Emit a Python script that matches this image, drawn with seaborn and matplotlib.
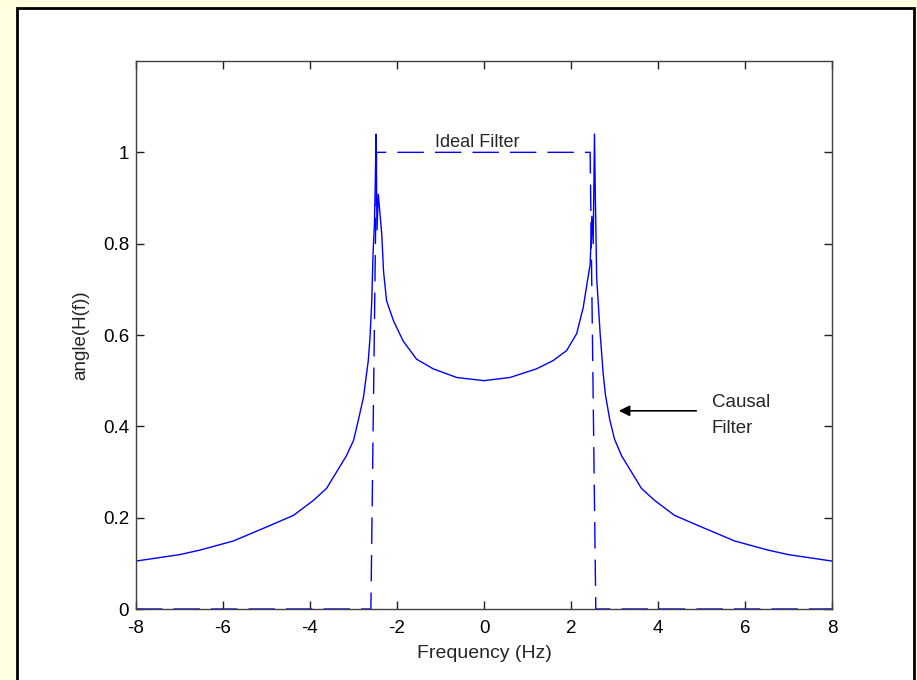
import numpy as np
import pandas as pd
import matplotlib
matplotlib.use("Agg")
import matplotlib.pyplot as plt
from matplotlib.patches import Rectangle
import seaborn as sns

# values
causal_f = [-8, -7, -6.53, -5.76, -4.99, -4.38, -3.92, -3.62, -3.39, -3.16, -3.0,
            -2.89, -2.77, -2.70, -2.66, -2.62, -2.58, -2.55, -2.52, -2.50, -2.48,
            -2.46, -2.43, -2.35, -2.31, -2.24, -2.08, -1.86, -1.55, -1.17, -0.63,
            0, 0.60, 1.21, 1.59, 1.90, 2.13, 2.28, 2.44, 2.48, 2.51, 2.54, 2.56,
            2.59, 2.67, 2.74, 2.79, 2.89, 3.0, 3.16, 3.39, 3.62, 3.92, 4.38, 4.99,
            5.76, 6.53, 7, 8]
causal_h = [0.105, 0.119, 0.129, 0.149, 0.180, 0.205, 0.238, 0.264, 0.300, 0.336, 0.369,
            0.413, 0.464, 0.515, 0.544, 0.595, 0.675, 0.78, 0.84, 0.93, 1.04,
            0.83, 0.908, 0.82, 0.74, 0.675, 0.631, 0.587, 0.547, 0.526, 0.507,
            0.500, 0.507, 0.526, 0.544, 0.566, 0.603, 0.66, 0.755, 0.86, 0.80, 1.04, 0.90,
            0.726, 0.603, 0.515, 0.47, 0.415, 0.372, 0.336, 0.300, 0.264, 0.238, 0.205, 0.180,
            0.149, 0.129, 0.119, 0.105]

ideal_f = [-8, -2.6, -2.47, 2.44, 2.57, 8]
ideal_h = [0, 0, 1, 1, 0, 0]

x_ticks = [-8, -6, -4, -2, 0, 2, 4, 6, 8]
y_ticks = [0, 0.2, 0.4, 0.6, 0.8, 1]

causal = pd.DataFrame({"f": causal_f, "h": causal_h})
ideal = pd.DataFrame({"f": ideal_f, "h": ideal_h})

sns.set_style("white")
plt.rcParams["font.family"] = ["Liberation Sans", "DejaVu Sans"]
plt.rcParams["axes.unicode_minus"] = False
plt.rcParams["lines.scale_dashes"] = False

fig = plt.figure(figsize=(9.17, 6.8), dpi=100)
fig.patch.set_facecolor("#FFFFE0")
# white panel with black frame, behind the axes
frame = Rectangle((17 / 917, -0.05), 897 / 917, 1 - 8 / 680 + 0.05,
                  transform=fig.transFigure, facecolor="white",
                  edgecolor="black", linewidth=2, zorder=-5)
fig.add_artist(frame)

ax = fig.add_axes([136 / 917, 1 - 609 / 680, 696 / 917, 548 / 680])
ax.set_facecolor("white")

sns.lineplot(data=causal, x="f", y="h", ax=ax, color="blue", linewidth=1,
             estimator=None, sort=False)
sns.lineplot(data=ideal, x="f", y="h", ax=ax, color="blue", linewidth=1,
             estimator=None, sort=False)
ax.lines[-1].set_dashes((19, 8))

ax.set_xlim(-8, 8)
ax.set_ylim(0, 1.2)
ax.set_xticks(x_ticks)
ax.set_xticklabels([f"{v:g}" for v in x_ticks])
ax.set_yticks(y_ticks)
ax.set_yticklabels([f"{v:g}" for v in y_ticks])
ax.tick_params(direction="in", length=6, width=1, colors="#202020",
               labelcolor="black", labelsize=13.5, top=True, right=True,
               left=True, bottom=True)
ax.tick_params(axis="x", pad=8)
ax.tick_params(axis="y", pad=5)
for s in ax.spines.values():
    s.set_color("#404040")
    s.set_linewidth(1)

ax.set_xlabel("Frequency (Hz)", fontsize=14, labelpad=6)
ax.set_ylabel("angle(H(f))", fontsize=13.5, labelpad=10)

ax.text(-1.12, 1.011, "Ideal Filter", fontsize=13, ha="left", va="baseline")
ax.text(5.24, 0.424, "Causal\nFilter", fontsize=13.5, ha="left", va="center",
        linespacing=1.65)
ax.annotate("", xy=(3.1, 0.434), xytext=(4.88, 0.434),
            arrowprops=dict(arrowstyle="-|>", color="black", lw=1.2,
                            mutation_scale=16, shrinkA=0, shrinkB=0))

fig.savefig("out.png", dpi=100, facecolor=fig.get_facecolor())
